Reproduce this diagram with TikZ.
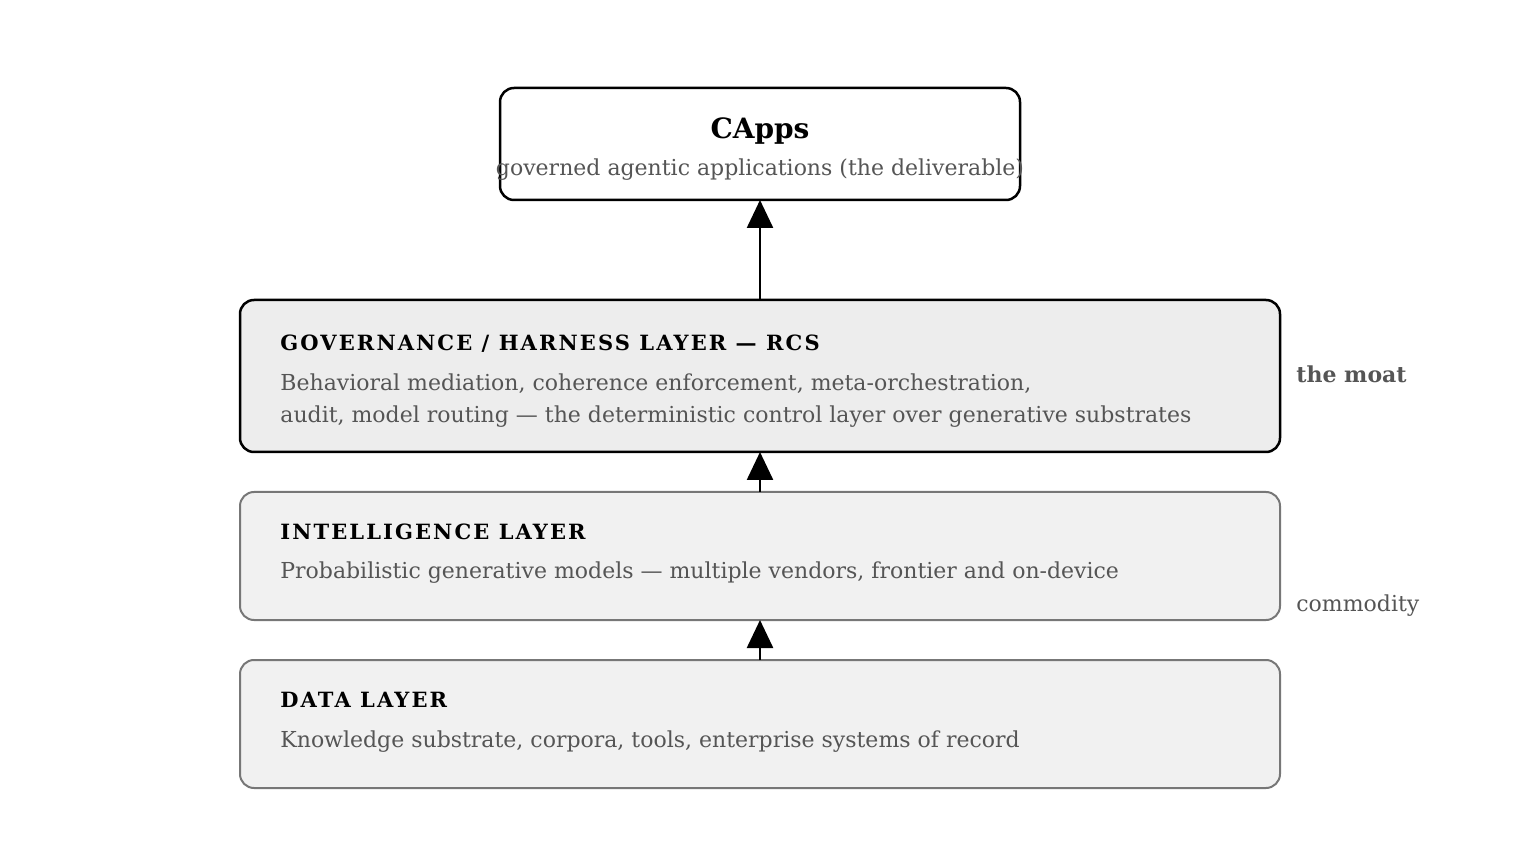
\documentclass[tikz,border=0pt]{standalone}
\usepackage{fontspec}
\setmainfont{DejaVu Serif}
\newfontfamily\hdfont{DejaVu Serif}[LetterSpace=10]
\usetikzlibrary{arrows.meta}
\definecolor{txtgray}{HTML}{555555}
\definecolor{boxgray}{HTML}{777777}
\definecolor{govfill}{HTML}{EDEDED}
\definecolor{lowfill}{HTML}{F1F1F1}
\begin{document}
\begin{tikzpicture}[x=0.5pt,y=-0.5pt,
  box/.style={rounded corners=7pt,line width=1.25pt},
  hd/.style={anchor=base west,font=\hdfont\bfseries\fontsize{10.5}{12}\selectfont,inner sep=0pt},
  body/.style={anchor=base west,text=txtgray,font=\fontsize{11}{13}\selectfont,inner sep=0pt},
  arr/.style={-{Triangle[length=14pt,width=13pt]},line width=1.25pt}]
\useasboundingbox (0,0) rectangle (1520,860);
\draw[box,fill=white] (500,88) rectangle (1020,200);
\coordinate (cappsb) at (760,200);
\draw[box,fill=govfill] (240,300) rectangle (1280,452);
\coordinate (govt) at (760,300); \coordinate (govb) at (760,452);
\draw[box,fill=lowfill,draw=boxgray,line width=1pt] (240,492) rectangle (1280,620);
\coordinate (intt) at (760,492); \coordinate (intb) at (760,620);
\draw[box,fill=lowfill,draw=boxgray,line width=1pt] (240,660) rectangle (1280,788);
\coordinate (datt) at (760,660);
\node[anchor=base,font=\bfseries\fontsize{14}{16}\selectfont,inner sep=0pt] (capps) at (760,139) {CApps};
\node[anchor=base,text=txtgray,font=\fontsize{11}{13}\selectfont,inner sep=0pt] (cappsub) at (760,176) {governed agentic applications (the deliverable)};
\node[hd] (govh) at (280,351) {GOVERNANCE / HARNESS LAYER — RCS};
\node[body] (gov1) at (280,391) {Behavioral mediation, coherence enforcement, meta-orchestration,};
\node[body] (gov2) at (280,423) {audit, model routing — the deterministic control layer over generative substrates};
\node[hd] (inth) at (280,539) {INTELLIGENCE LAYER};
\node[body] (int1) at (280,579) {Probabilistic generative models — multiple vendors, frontier and on-device};
\node[hd] (dath) at (280,707) {DATA LAYER};
\node[body] (dat1) at (280,747) {Knowledge substrate, corpora, tools, enterprise systems of record};
\node[body,font=\bfseries\fontsize{11}{13}\selectfont] (moat) at (1296,383) {the moat};
\node[body] (comm) at (1296,611) {commodity};
\draw[arr] (govt) -- (cappsb);
\draw[arr] (intt) -- (govb);
\draw[arr] (datt) -- (intb);
\end{tikzpicture}
\end{document}
